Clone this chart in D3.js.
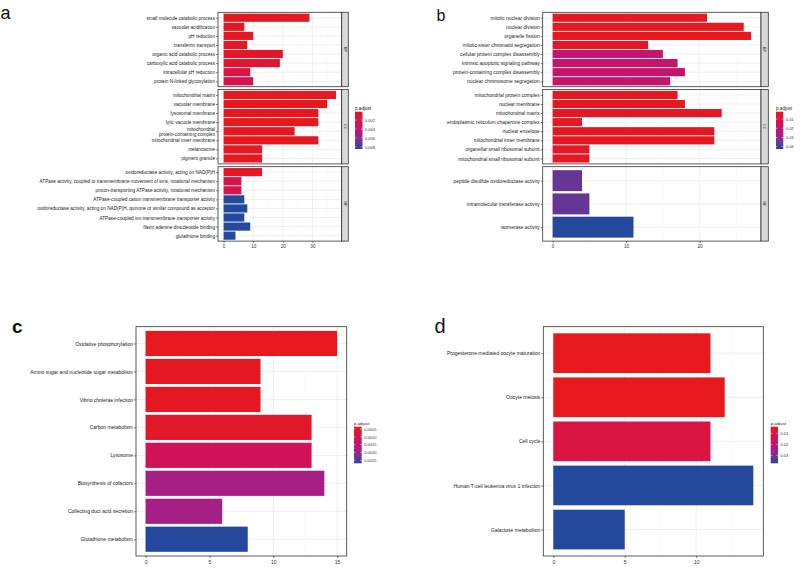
<!DOCTYPE html>
<html><head><meta charset="utf-8">
<script src="https://cdn.jsdelivr.net/npm/d3@7"></script>
<style>body{margin:0;background:#fff}svg{display:block}text{font-family:"Liberation Sans",Arial,sans-serif}</style>
</head><body>
<svg id="fig" width="800" height="568"></svg>
<script>
// ---------- DATA ----------
const aBPTerms = ["small molecule catabolic process","vacuolar acidification","pH reduction","transferrin transport","organic acid catabolic process","carboxylic acid catabolic process","intracellular pH reduction","protein N-linked glycosylation"];
const aBPCounts = [29,7,10,8,20,19,9,10];
const aBPPadj = [0.0002,0.0003,0.0004,0.0005,0.0006,0.0011,0.0018,0.0021];
const aCCTerms = ["mitochondrial matrix","vacuolar membrane","lysosomal membrane","lytic vacuole membrane","mitochondrial\nprotein-containing complex","mitochondrial inner membrane","melanosome","pigment granule"];
const aCCCounts = [38,35,32,32,24,32,13,13];
const aCCPadj = [0.0001,0.0001,0.0001,0.0001,0.0002,0.0002,0.0003,0.0003];
const aMFTerms = ["oxidoreductase activity, acting on NAD(P)H","ATPase activity, coupled to transmembrane movement of ions, rotational mechanism","proton-transporting ATPase activity, rotational mechanism","ATPase-coupled cation transmembrane transporter activity","oxidoreductase activity, acting on NAD(P)H, quinone or similar compound as acceptor","ATPase-coupled ion transmembrane transporter activity","flavin adenine dinucleotide binding","glutathione binding"];
const aMFCounts = [13,6,6,7,8,7,9,4];
const aMFPadj = [0.0005,0.0022,0.0022,0.0085,0.0085,0.0085,0.0085,0.0085];

const bBPTerms = ["mitotic nuclear division","nuclear division","organelle fission","mitotic sister chromatid segregation","cellular protein complex disassembly","intrinsic apoptotic signaling pathway","protein-containing complex disassembly","nuclear chromosome segregation"];
const bBPCounts = [21,26,27,13,15,17,18,16];
const bBPPadj = [0.002,0.002,0.002,0.004,0.019,0.019,0.019,0.019];
const bCCTerms = ["mitochondrial protein complex","nuclear membrane","mitochondrial matrix","endoplasmic reticulum chaperone complex","nuclear envelope","mitochondrial inner membrane","organellar small ribosomal subunit","mitochondrial small ribosomal subunit"];
const bCCCounts = [17,18,23,4,22,22,5,5];
const bCCPadj = [0.003,0.003,0.003,0.003,0.003,0.003,0.003,0.003];
const bMFTerms = ["peptide disulfide oxidoreductase activity","intramolecular transferase activity","isomerase activity"];
const bMFCounts = [4,5,11];
const bMFPadj = [0.036,0.036,0.0425];

const cTerms = ["Oxidative phosphorylation","Amino sugar and nucleotide sugar metabolism","Vibrio cholerae infection","Carbon metabolism","Lysosome","Biosynthesis of cofactors","Collecting duct acid secretion","Glutathione metabolism"];
const cCounts = [15,9,9,13,13,14,6,8];
const cPadj = [0.00035,0.0004,0.0004,0.0005,0.0011,0.0018,0.0018,0.0027];

const dTerms = ["Progesterone-mediated oocyte maturation","Oocyte meiosis","Cell cycle","Human T-cell leukemia virus 1 infection","Galactose metabolism"];
const dCounts = [11,12,11,14,5];
const dPadj = [0.004,0.004,0.0105,0.037,0.037];

const facetNames = ["BP","CC","MF"];
const aXTicks = [0,10,20,30], bXTicks = [0,10,20], cXTicks = [0,5,10,15], dXTicks = [0,5,10];
const aLegendTicks = [0.002,0.004,0.006,0.008];
const bLegendTicks = [0.01,0.02,0.03,0.04];
const cLegendTicks = [0.0005,0.0010,0.0015,0.0020,0.0025];
const dLegendTicks = [0.01,0.02,0.03];

// ---------- DRAWING ----------
const svg = d3.select("#fig");
const defs = svg.append("defs");
const colorStops = ["#E5191E","#D7134D","#BD1479","#8A2C92","#24489C"];
const tScale = d3.scaleLinear().domain([0,0.25,0.5,0.75,1]).range(colorStops);
function colorFor(domain){
  const t = d3.scaleLinear().domain(domain).clamp(true);
  return v => tScale(t(v));
}

function panel(opt){
  const g = svg.append("g");
  const all = opt.facets.flatMap(f=>f.counts);
  const xmax = d3.max(all);
  const x = d3.scaleLinear().domain([-0.05*xmax, 1.05*xmax]).range([opt.left, opt.right]);
  const pall = opt.facets.flatMap(f=>f.padj);
  const pdom = d3.extent(pall);
  const col = colorFor(pdom);
  const minor = [];
  for(let i=0;i<opt.xticks.length;i++){ const step = opt.xticks[1]-opt.xticks[0]; minor.push(opt.xticks[i]+step/2); }
  opt.facets.forEach((f,i)=>{
    const top = opt.top + i*(opt.fh+opt.gap), bottom = top+opt.fh;
    const y = d3.scalePoint().domain(f.terms).range([top,bottom]).padding(0.6);
    const bh = y.step()*0.9;
    const fg = g.append("g");
    fg.append("rect").attr("x",opt.left).attr("y",top).attr("width",opt.right-opt.left).attr("height",opt.fh).attr("fill","#fff");
    fg.selectAll(".mn").data(minor.filter(v=>x(v)<opt.right)).join("line")
      .attr("x1",d=>x(d)).attr("x2",d=>x(d)).attr("y1",top).attr("y2",bottom).attr("stroke","#F2F2F2").attr("stroke-width",0.4);
    fg.selectAll(".mj").data(opt.xticks).join("line")
      .attr("x1",d=>x(d)).attr("x2",d=>x(d)).attr("y1",top).attr("y2",bottom).attr("stroke","#EBEBEB").attr("stroke-width",0.8);
    fg.selectAll(".my").data(f.terms).join("line")
      .attr("x1",opt.left).attr("x2",opt.right).attr("y1",d=>y(d)).attr("y2",d=>y(d)).attr("stroke","#EBEBEB").attr("stroke-width",0.8);
    fg.selectAll(".bar").data(f.terms.map((t,j)=>({t,c:f.counts[j],p:f.padj[j]}))).join("rect")
      .attr("x",x(0)).attr("y",d=>y(d.t)-bh/2).attr("width",d=>x(d.c)-x(0)).attr("height",bh)
      .attr("fill",d=>col(d.p));
    fg.append("rect").attr("x",opt.left).attr("y",top).attr("width",opt.right-opt.left).attr("height",opt.fh)
      .attr("fill","none").attr("stroke","#333").attr("stroke-width",0.8);
    // y axis
    const ya = fg.append("g").attr("transform",`translate(${opt.left},0)`)
      .call(d3.axisLeft(y).tickSize(opt.tick).tickPadding(opt.pad));
    ya.select(".domain").remove();
    ya.selectAll(".tick line").attr("stroke","#333").attr("stroke-width",0.6);
    ya.selectAll(".tick text").attr("font-size",opt.yfs).attr("fill","#1a1a1a").attr("font-family","Liberation Sans, Arial, sans-serif")
      .each(function(d){
        const lines = d.split("\n");
        if(lines.length>1){
          const t = d3.select(this); t.text(null);
          const xx = t.attr("x");
          lines.forEach((l,k)=>t.append("tspan").attr("x",xx).attr("dy",k===0?(0.32-(lines.length-1)*0.55)+"em":"1.1em").text(l));
          t.attr("dy",null);
        }
      });
    if(opt.strip){
      fg.append("rect").attr("x",opt.right).attr("y",top).attr("width",opt.sw).attr("height",opt.fh)
        .attr("fill","#D9D9D9").attr("stroke","#333").attr("stroke-width",0.8);
      fg.append("text").attr("transform",`translate(${opt.right+opt.sw/2},${top+opt.fh/2}) rotate(90)`)
        .attr("text-anchor","middle").attr("dy","0.35em").attr("font-size",3.6).attr("fill","#1a1a1a").text(f.name);
    }
    if(i===opt.facets.length-1){
      const xa = fg.append("g").attr("transform",`translate(0,${bottom})`)
        .call(d3.axisBottom(x).tickValues(opt.xticks).tickSize(opt.tick).tickPadding(opt.xpad));
      xa.select(".domain").remove();
      xa.selectAll(".tick line").attr("stroke","#333").attr("stroke-width",0.6);
      xa.selectAll(".tick text").attr("font-size",opt.xfs).attr("fill","#333").attr("font-family","Liberation Sans, Arial, sans-serif");
    }
  });
  // legend
  const L = opt.legend;
  const gid = "grad"+opt.id;
  const grad = defs.append("linearGradient").attr("id",gid).attr("x1",0).attr("y1",0).attr("x2",0).attr("y2",1);
  d3.range(0,1.0001,0.05).forEach(s=>grad.append("stop").attr("offset",s).attr("stop-color",tScale(s)));
  const lg = g.append("g");
  lg.append("text").attr("x",L.x).attr("y",L.y-2).attr("font-size",L.tfs).attr("fill","#1a1a1a").text("p.adjust");
  lg.append("rect").attr("x",L.x).attr("y",L.y).attr("width",L.w).attr("height",L.h).attr("fill",`url(#${gid})`);
  const ly = d3.scaleLinear().domain(pdom).range([L.y, L.y+L.h]);
  lg.selectAll(".lt1").data(L.ticks).join("line").attr("x1",L.x).attr("x2",L.x+1.5).attr("y1",d=>ly(d)).attr("y2",d=>ly(d)).attr("stroke","#fff").attr("stroke-width",0.5);
  lg.selectAll(".lt2").data(L.ticks).join("line").attr("x1",L.x+L.w-1.5).attr("x2",L.x+L.w).attr("y1",d=>ly(d)).attr("y2",d=>ly(d)).attr("stroke","#fff").attr("stroke-width",0.5);
  const la = lg.append("g").attr("transform",`translate(${L.x+L.w},0)`)
    .call(d3.axisRight(ly).tickValues(L.ticks).tickSize(0).tickPadding(2.5).tickFormat(d3.format(L.fmt)));
  la.select(".domain").remove();
  la.selectAll(".tick text").attr("font-size",L.fs).attr("fill","#333").attr("font-family","Liberation Sans, Arial, sans-serif");
  // panel letter
  svg.append("text").attr("x",opt.letter[0]).attr("y",opt.letter[1]).attr("font-size",opt.letter[2])
    .attr("font-weight",opt.letter[3]||"normal").attr("fill","#111").text(opt.id);
}

panel({id:"a", left:218, right:341.7, top:12.3, fh:74.4, gap:2.8, strip:true, sw:6.6, tick:2, pad:1, xpad:1.5, yfs:4.7, xfs:4.6,
  xticks:aXTicks,
  facets:[{name:facetNames[0],terms:aBPTerms,counts:aBPCounts,padj:aBPPadj},
          {name:facetNames[1],terms:aCCTerms,counts:aCCCounts,padj:aCCPadj},
          {name:facetNames[2],terms:aMFTerms,counts:aMFCounts,padj:aMFPadj}],
  legend:{x:355,y:111.7,w:7.5,h:37.3,ticks:aLegendTicks,fmt:".3f",fs:4,tfs:4.6},
  letter:[0.5,18.5,18]});

panel({id:"b", left:542.7, right:761, top:12.3, fh:74.4, gap:2.8, strip:true, sw:7.3, tick:2, pad:1, xpad:1.5, yfs:4.9, xfs:4.6,
  xticks:bXTicks,
  facets:[{name:facetNames[0],terms:bBPTerms,counts:bBPCounts,padj:bBPPadj},
          {name:facetNames[1],terms:bCCTerms,counts:bCCCounts,padj:bCCPadj},
          {name:facetNames[2],terms:bMFTerms,counts:bMFCounts,padj:bMFPadj}],
  legend:{x:776,y:111.7,w:7.3,h:37.3,ticks:bLegendTicks,fmt:".2f",fs:4,tfs:4.6},
  letter:[436.5,20.7,16]});

panel({id:"c", left:136, right:346.7, top:326.7, fh:229.3, gap:0, strip:false, tick:2, pad:1, xpad:2, yfs:5.0, xfs:5,
  xticks:cXTicks,
  facets:[{name:"",terms:cTerms,counts:cCounts,padj:cPadj}],
  legend:{x:354,y:426.7,w:7.7,h:36.6,ticks:cLegendTicks,fmt:".4f",fs:4,tfs:4.4},
  letter:[12,333,19,"bold"]});

panel({id:"d", left:543.3, right:763.3, top:326.7, fh:229.3, gap:0, strip:false, tick:2, pad:1, xpad:2, yfs:5.0, xfs:5,
  xticks:dXTicks,
  facets:[{name:"",terms:dTerms,counts:dCounts,padj:dPadj}],
  legend:{x:770.7,y:426.7,w:7.3,h:36.6,ticks:dLegendTicks,fmt:".2f",fs:4,tfs:4.4},
  letter:[434.5,333,20]});
</script>
</body></html>
